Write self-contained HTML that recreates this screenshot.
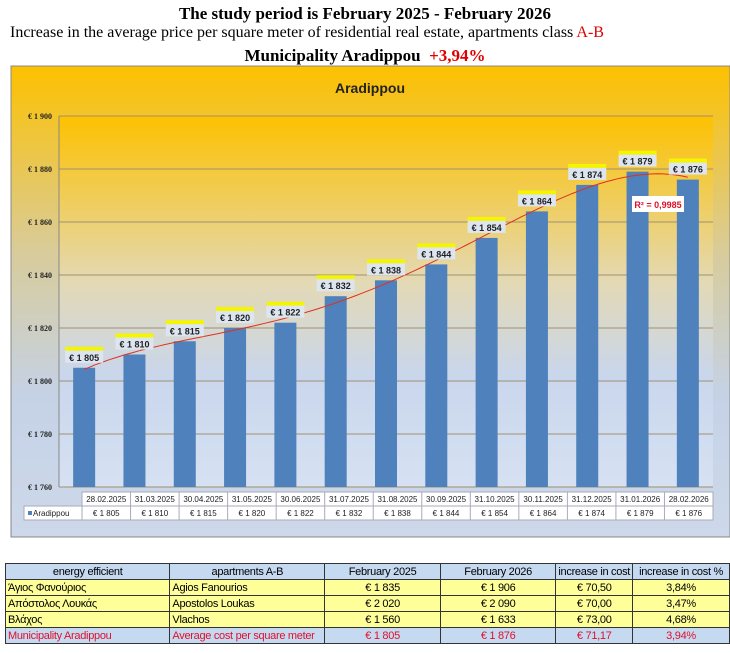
<!DOCTYPE html>
<html><head><meta charset="utf-8"><style>
body{margin:0;width:730px;height:653px;background:#fff;position:relative;overflow:hidden;font-family:"Liberation Sans",sans-serif}
.t{position:absolute;left:0;width:730px;text-align:center;font-family:"Liberation Serif",serif;color:#000}
table.bt{position:absolute;left:5px;top:563px;border-collapse:collapse;font-family:"Liberation Sans","Noto Sans CJK SC",sans-serif;font-size:11px;transform-origin:0 0}
table.bt td{border:1px solid #333;height:15px;padding:0 2px;white-space:nowrap;letter-spacing:-0.3px}
</style></head><body>
<div class="t" style="top:4px;font-size:17px;font-weight:bold">The study period is February 2025 - February 2026</div>
<div class="t" style="top:24px;font-size:16px;left:10px;width:700px;text-align:left">Increase in the average price per square meter of residential real estate, apartments class <span style="color:#e00000">A-B</span></div>
<div class="t" style="top:46px;font-size:17px;font-weight:bold">Municipality Aradippou &nbsp;<span style="color:#e00000">+3,94%</span></div>
<svg id="chart" width="730" height="540" style="position:absolute;left:0;top:0" xmlns="http://www.w3.org/2000/svg">
<defs>
<linearGradient id="bg" x1="0" y1="0" x2="0" y2="1"><stop offset="0" stop-color="#fdc100"/><stop offset="0.4" stop-color="#d8cc9c"/><stop offset="0.7" stop-color="#c5d2e6"/><stop offset="1" stop-color="#cdd9ea"/></linearGradient>
<linearGradient id="pg" x1="0" y1="0" x2="0" y2="1"><stop offset="0" stop-color="#fdc100"/><stop offset="0.45" stop-color="#e3d9b5"/><stop offset="0.7" stop-color="#c9d6ec"/><stop offset="1" stop-color="#d6e1f2"/></linearGradient>
</defs>
<rect x="11" y="66" width="719" height="471" fill="url(#bg)" stroke="#888"/>
<rect x="59" y="116" width="654" height="371" fill="url(#pg)"/>
<text x="370" y="93" text-anchor="middle" font-size="14" font-weight="bold" fill="#222">Aradippou</text>
<g id="grid"></g><g id="bars"></g><g id="trend"></g><g id="labels"></g><g id="dtable"></g>
</svg>
<table class="bt">
<tr style="background:#c5d9f1"><td style="width:160px;text-align:center">energy efficient</td><td style="width:150px;text-align:center">apartments A-B</td><td style="width:111px;text-align:center">February 2025</td><td style="width:111px;text-align:center">February 2026</td><td style="width:69px;text-align:center">increase in cost</td><td style="width:92px;text-align:center">increase in cost %</td></tr>
<tr style="background:#ffff99"><td>Άγιος Φανούριος</td><td>Agios Fanourios</td><td align="center">€ 1 835</td><td align="center">€ 1 906</td><td align="center">€ 70,50</td><td align="center">3,84%</td></tr>
<tr style="background:#ffff99"><td>Απόστολος Λουκάς</td><td>Apostolos Loukas</td><td align="center">€ 2 020</td><td align="center">€ 2 090</td><td align="center">€ 70,00</td><td align="center">3,47%</td></tr>
<tr style="background:#ffff99"><td>Βλάχος</td><td>Vlachos</td><td align="center">€ 1 560</td><td align="center">€ 1 633</td><td align="center">€ 73,00</td><td align="center">4,68%</td></tr>
<tr style="background:#c5d9f1;color:#e0102a"><td>Municipality Aradippou</td><td>Average cost per square meter</td><td align="center">€ 1 805</td><td align="center">€ 1 876</td><td align="center">€ 71,17</td><td align="center">3,94%</td></tr>
</table>
<script>
const categories=["28.02.2025","31.03.2025","30.04.2025","31.05.2025","30.06.2025","31.07.2025","31.08.2025","30.09.2025","31.10.2025","30.11.2025","31.12.2025","31.01.2026","28.02.2026"];
const values=[1805,1810,1815,1820,1822,1832,1838,1844,1854,1864,1874,1879,1876];
const yTicks=[1760,1780,1800,1820,1840,1860,1880,1900];
const NS="http://www.w3.org/2000/svg";
const X0=59,X1=713,Y0=487,Y1=116,YMIN=1760,YMAX=1900;
const step=(X1-X0)/categories.length;
const xc=i=>X0+step*(i+0.5);
const y=v=>Y0-(v-YMIN)/(YMAX-YMIN)*(Y0-Y1);
const fmt=v=>"€ "+String(v).replace(/\B(?=(\d{3})+$)/," ");
function mk(t,a,p){const e=document.createElementNS(NS,t);for(const k in a)e.setAttribute(k,a[k]);p.appendChild(e);return e;}
const grid=document.getElementById('grid');
yTicks.forEach(v=>{
 const l=mk('line',{x1:X0,x2:X1,y1:y(v),y2:y(v),stroke:'#a09070','stroke-width':1},grid);
 
 
 const t=mk('text',{x:52,y:y(v)+3,'text-anchor':'end','font-size':8,'font-family':'Liberation Serif, serif','font-weight':'bold',fill:'#222'},grid);
 t.textContent=fmt(v);
 
 
});
mk('line',{x1:X0,x2:X0,y1:Y1,y2:Y0,stroke:'#888'},grid);
const bars=document.getElementById('bars'),labels=document.getElementById('labels');
values.forEach((v,i)=>{
 const r=mk('rect',{x:xc(i)-11,y:y(v),width:22,height:Y0-y(v),fill:'#4f81bd'},bars);
 
 
 const g=mk('g',{},labels);
 
 
 const ly=y(v)-14;
 mk('rect',{x:xc(i)-19,y:ly-7,width:38,height:4,fill:'#f5f500'},g);
 mk('rect',{x:xc(i)-19,y:ly-3,width:38,height:12,fill:'#dde6f0'},g);
 const t=mk('text',{x:xc(i),y:ly+7,'text-anchor':'middle','font-size':9,'font-weight':'bold',fill:'#222'},g);
 t.textContent=fmt(v);
});
// polynomial least-squares trendline from data
(function(){
 const d=4,xs=values.map((_,i)=>(i-6)/6);
 const A=[],b=[];
 for(let r=0;r<=d;r++){A.push([]);for(let c=0;c<=d;c++){A[r].push(xs.reduce((s,x)=>s+Math.pow(x,r+c),0));}b.push(xs.reduce((s,x,i)=>s+Math.pow(x,r)*values[i],0));}
 for(let i=0;i<=d;i++){for(let k=i+1;k<=d;k++){const f=A[k][i]/A[i][i];for(let j=i;j<=d;j++)A[k][j]-=f*A[i][j];b[k]-=f*b[i];}}
 const c=new Array(d+1);for(let i=d;i>=0;i--){let s=b[i];for(let j=i+1;j<=d;j++)s-=A[i][j]*c[j];c[i]=s/A[i][i];}
 let p="";for(let k=0;k<=120;k++){const xi=12*k/120,x=(xi-6)/6;let v=0;for(let j=0;j<=d;j++)v+=c[j]*Math.pow(x,j);p+=(k?"L":"M")+(xc(xi)).toFixed(1)+","+y(v).toFixed(1);}
 const tr=document.getElementById('trend');
 const pe=mk('path',{d:p,fill:'none',stroke:'#e03020','stroke-width':1},tr);
 
 
 const rg=mk('g',{},tr);
 
 
 mk('rect',{x:632,y:196,width:52,height:16,fill:'#fff'},rg);
 const t=mk('text',{x:658,y:208,'text-anchor':'middle','font-size':9,'font-weight':'bold',fill:'#e0102a'},rg);
 t.textContent="R² = 0,9985";
})();
const dt=document.getElementById('dtable');
const T0=492,RH=14;
mk('rect',{x:X0+23,y:T0,width:X1-X0-23,height:RH,fill:'#fff',stroke:'#aab'},dt);
mk('rect',{x:24,y:T0+RH,width:X1-24,height:RH,fill:'#fff',stroke:'#aab'},dt);
const lg=mk('g',{},dt);


mk('rect',{x:28,y:T0+RH+5,width:4,height:4,fill:'#4f81bd'},lg);
const lt=mk('text',{x:33,y:T0+RH+10,'font-size':8,fill:'#222'},lg);lt.textContent="Aradippou";
categories.forEach((c,i)=>{
 const x=X0+23+ (X1-X0-23)/categories.length*i, w=(X1-X0-23)/categories.length;
 mk('line',{x1:x,x2:x,y1:T0,y2:T0+2*RH,stroke:'#aab'},dt);
 const a=mk('text',{x:x+w/2,y:T0+10,'text-anchor':'middle','font-size':8,fill:'#222'},dt);a.textContent=c;
 
 
 const b=mk('text',{x:x+w/2,y:T0+RH+10,'text-anchor':'middle','font-size':8,fill:'#222'},dt);b.textContent=fmt(values[i]);
 
 
});
</script>
</body></html>
